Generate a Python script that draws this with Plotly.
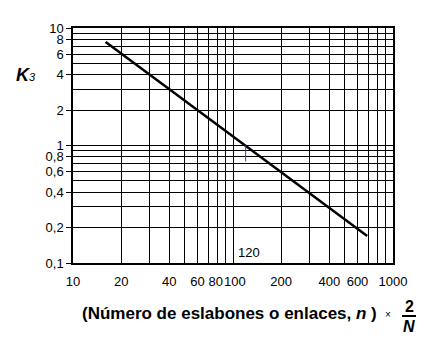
import math
import plotly.graph_objects as go

# Data
line_n = [16, 690]
line_k = [7.6, 0.17]

x_major = [10, 20, 40, 60, 80, 100, 200, 400, 600, 1000]
x_major_text = ["10", "20", "40", "60", "80\u00a0", "\u00a0100", "200", "400", "600", "1000"]
x_minor = [30, 50, 70, 90, 300, 500, 700, 800, 900]

y_major = [0.1, 0.2, 0.4, 0.6, 0.8, 1, 2, 4, 6, 8, 10]
y_major_text = ["0,1", "0,2", "0,4", "0,6", "0,8", "1", "2", "4", "6", "8", "10"]
y_minor = [0.3, 0.5, 0.7, 0.9, 3, 5, 7, 9]

mark_n = [120, 120]
mark_k = [1.0, 0.73]
label_n = 120

FONT = "Liberation Sans, Arial, sans-serif"

fig = go.Figure()
fig.add_trace(go.Scatter(x=line_n, y=line_k, mode="lines",
                         line=dict(color="black", width=2.5), showlegend=False))
fig.add_trace(go.Scatter(x=mark_n, y=mark_k, mode="lines",
                         line=dict(color="#3a3fa8", width=1), showlegend=False))

L, R, T, B = 73, 393, 28, 263
W, H = 447, 361

def px(x):
    return (x - L) / (R - L)

def py(y):
    return (B - y) / (B - T)

fig.update_layout(
    width=W, height=H,
    margin=dict(l=L, r=W - R, t=T, b=H - B),
    paper_bgcolor="white", plot_bgcolor="white",
    font=dict(family=FONT, color="black", size=13),
    xaxis=dict(type="log", range=[1, 3], tickmode="array",
               tickvals=x_major, ticktext=x_major_text, tickangle=0,
               tickfont=dict(size=13),
               showgrid=True, gridcolor="black", gridwidth=1.2,
               ticks="", ticklabelstandoff=6,
               showline=True, linecolor="black", linewidth=1.5, mirror=True,
               zeroline=False,
               minor=dict(tickvals=x_minor, showgrid=True, gridcolor="black",
                          gridwidth=1.2, ticks="")),
    yaxis=dict(type="log", range=[-1, 1], tickmode="array",
               tickvals=y_major, ticktext=y_major_text,
               tickfont=dict(size=13),
               showgrid=True, gridcolor="black", gridwidth=1.2,
               ticks="outside", ticklen=5, tickcolor="black", tickwidth=1.2,
               showline=True, linecolor="black", linewidth=1.5, mirror=True,
               zeroline=False,
               minor=dict(tickvals=y_minor, showgrid=True, gridcolor="black",
                          gridwidth=1.2, ticks="")),
    showlegend=False,
)

ann = []
# K3 label
ann.append(dict(x=px(38), y=py(75), xref="paper", yref="paper",
                text="<b><i>K</i></b><i><span style='font-size:11px'>3</span></i>",
                showarrow=False, xanchor="right", yanchor="middle",
                font=dict(family=FONT, size=18, color="black")))
# 120 annotation
ann.append(dict(x=math.log10(label_n), y=-1, xref="x", yref="y", text="120",
                showarrow=False, xanchor="center", yanchor="bottom",
                xshift=3, yshift=1,
                font=dict(family=FONT, size=13, color="black")))
# X axis title
ann.append(dict(x=px(379), y=py(313), xref="paper", yref="paper",
                text="<b>(Número de eslabones o enlaces, <i>n</i> )</b>",
                showarrow=False, xanchor="right", yanchor="middle",
                font=dict(family=FONT, size=17, color="black")))
ann.append(dict(x=px(388), y=py(315), xref="paper", yref="paper",
                text="×", showarrow=False, xanchor="center", yanchor="middle",
                font=dict(family=FONT, size=10, color="black")))
ann.append(dict(x=px(409), y=py(306), xref="paper", yref="paper",
                text="<b>2</b>", showarrow=False, xanchor="center", yanchor="middle",
                font=dict(family=FONT, size=16, color="black")))
ann.append(dict(x=px(409), y=py(326), xref="paper", yref="paper",
                text="<b><i>N</i></b>", showarrow=False, xanchor="center", yanchor="middle",
                font=dict(family=FONT, size=16, color="black")))
fig.update_layout(annotations=ann)

fig.add_shape(type="line", xref="paper", yref="paper",
              x0=px(402), x1=px(416), y0=py(316), y1=py(316),
              line=dict(color="black", width=2))

fig.write_html("out.html")
